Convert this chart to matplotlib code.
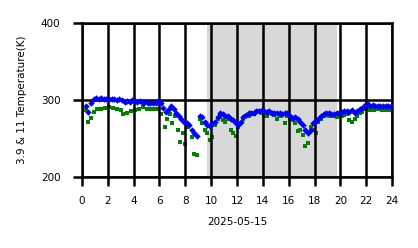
import matplotlib
matplotlib.use("Agg")
import matplotlib.pyplot as plt
import numpy as np

# 3.9 um channel (blue), hours of day
t39 = [0.3, 0.5, 0.7, 0.9, 1.1, 1.3, 1.5, 1.7, 1.9, 2.1, 2.3, 2.5, 2.7, 2.9,
       3.1, 3.3, 3.5, 3.7, 3.9, 4.1, 4.3, 4.5, 4.7, 4.9, 5.1, 5.3, 5.5, 5.7,
       5.9, 6.1, 6.3, 6.5, 6.7, 6.9, 7.1, 7.3, 7.5, 7.7, 7.9, 8.1, 8.3, 8.5,
       8.7, 8.9, 9.1, 9.3, 9.5, 9.7, 9.9, 10.1, 10.3, 10.5, 10.7, 10.9, 11.1,
       11.3, 11.5, 11.7, 11.9, 12.1, 12.3, 12.5, 12.7, 12.9, 13.1, 13.3, 13.5,
       13.7, 13.9, 14.1, 14.3, 14.5, 14.7, 14.9, 15.1, 15.3, 15.5, 15.7, 15.9,
       16.1, 16.3, 16.5, 16.7, 16.9, 17.1, 17.3, 17.5, 17.7, 17.9, 18.1, 18.3,
       18.5, 18.7, 18.9, 19.1, 19.3, 19.5, 19.7, 19.9, 20.1, 20.3, 20.5, 20.7,
       20.9, 21.1, 21.3, 21.5, 21.7, 21.9, 22.1, 22.3, 22.5, 22.7, 22.9, 23.1,
       23.3, 23.5, 23.7, 23.9]
temp39 = [292, 285, 296, 302, 303, 302, 303, 302, 301, 302, 301, 302, 300, 301,
          300, 298, 299, 298, 300, 299, 298, 299, 297, 298, 297, 296, 297, 296,
          299, 296, 290, 285, 288, 292, 289, 284, 280, 276, 272, 270, 268, 262,
          257, 254, 280, 278, 272, 268, 266, 270, 272, 278, 283, 282, 280,
          279, 276, 274, 270, 268, 272, 278, 281, 283, 284, 284, 286,
          286, 287, 286, 285, 286, 284, 283, 284, 283, 282, 284, 283,
          280, 277, 278, 276, 272, 268, 262, 258, 262, 270, 273, 276,
          280, 282, 283, 284, 282, 282, 283, 284, 285, 286, 286, 285,
          287, 284, 286, 288, 290, 294, 295, 293, 294, 293, 292, 293,
          292, 293, 292, 292]

# 11 um channel (green)
t11 = [0.3, 0.5, 0.7, 0.9, 1.2, 1.5, 1.8, 2.1, 2.4, 2.7, 3.0, 3.2, 3.5, 3.8,
       4.1, 4.4, 4.7, 5.0, 5.3, 5.6, 5.9, 6.1, 6.4, 6.6, 6.8, 7.0, 7.2, 7.4,
       7.6, 7.8, 8.0, 8.2, 8.5, 8.7, 8.9, 9.1, 9.3, 9.5, 9.7, 9.9, 10.1, 10.3,
       10.5, 10.7, 10.9, 11.1, 11.3, 11.5, 11.7, 11.9, 12.1, 12.3, 12.5, 12.7,
       12.9, 13.1, 13.3, 13.5, 13.7, 13.9, 14.1, 14.3, 14.5, 14.7, 14.9, 15.1,
       15.3, 15.5, 15.7, 15.9, 16.1, 16.3, 16.5, 16.7, 16.9, 17.1, 17.3, 17.5,
       17.7, 17.9, 18.1, 18.3, 18.5, 18.7, 18.9, 19.1, 19.3, 19.5, 19.7, 19.9,
       20.1, 20.3, 20.5, 20.7, 20.9, 21.1, 21.3, 21.5, 21.7, 22.0, 22.3, 22.6,
       22.9, 23.2, 23.5, 23.8]
temp11 = [287, 272, 277, 285, 288, 289, 290, 291, 290, 289, 287, 282, 284, 286,
          287, 289, 291, 289, 288, 288, 288, 282, 265, 275, 282, 270, 280, 262,
          246, 258, 243, 265, 252, 230, 229, 275, 270, 262, 257, 248, 252, 268,
          276, 279, 274, 272, 276, 262, 258, 254, 265, 270, 276, 280,
          279, 283, 282, 285, 286, 283, 280, 279, 283, 282, 281, 275,
          280, 281, 270, 279, 276, 274, 270, 260, 262, 255, 240, 245,
          265, 262, 258, 272, 276, 279, 281, 280, 280, 279, 278, 280,
          280, 281, 282, 274, 272, 276, 280, 284, 285, 288, 287, 287,
          288, 287, 287, 287]

night_start, night_end = 9.7, 19.7

fig = plt.figure(figsize=(4.18, 2.48), dpi=100)
ax = fig.add_axes([0.196, 0.285, 0.742, 0.622])

ax.axvspan(night_start, night_end, color="gray", alpha=0.3, lw=0, zorder=0)
ax.plot(t11, temp11, "s", color="green", markersize=2.8, mew=0, zorder=2)
ax.plot(t39, temp39, "D", color="blue", markersize=3.3, mew=0, zorder=3)

ax.set_xlim(0, 24)
ax.set_ylim(200, 400)
ax.set_xticks(np.arange(0, 25, 2))
ax.set_yticks([200, 300, 400])
ax.grid(True, color="black", linewidth=1.8, zorder=1)
ax.set_axisbelow(False)
for s in ax.spines.values():
    s.set_linewidth(1.8)
    s.set_color("black")
ax.tick_params(length=6.5, width=1.8, labelsize=7.5)
ax.tick_params(axis="x", pad=7)
ax.tick_params(axis="y", pad=9)
ax.set_xlabel("2025-05-15", fontsize=7.5, labelpad=8)
ax.set_ylabel("3.9 & 11 Temperature(K)", fontsize=7.5, labelpad=10)

fig.savefig("out.png", dpi=100)
